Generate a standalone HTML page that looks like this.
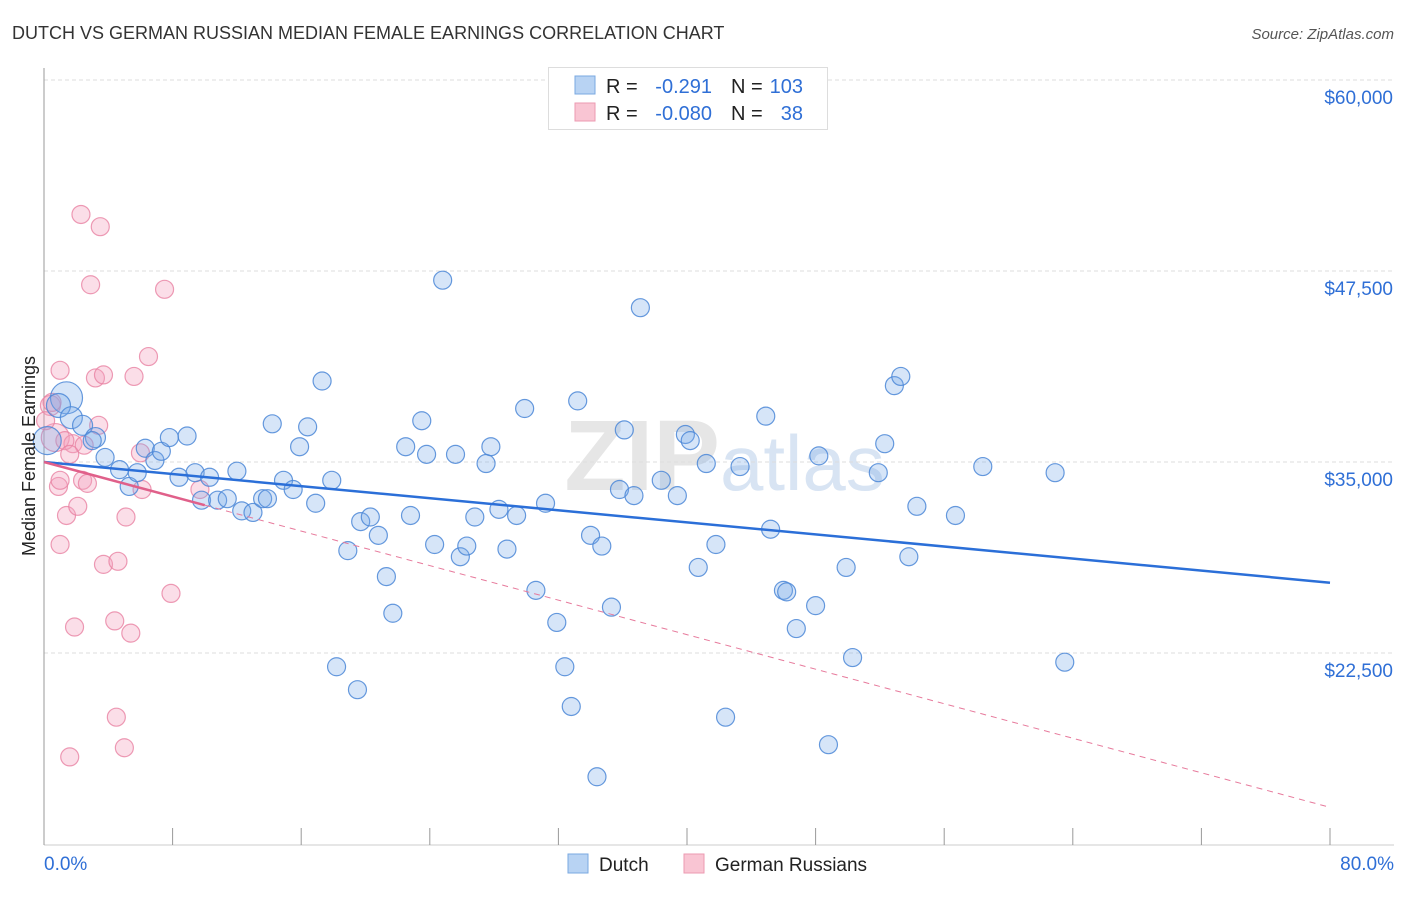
<!DOCTYPE html>
<html><head><meta charset="utf-8"><style>
body{margin:0;background:#fff;font-family:"Liberation Sans",sans-serif;}
svg text{font-family:"Liberation Sans",sans-serif;}
</style></head><body>
<svg id="chart" width="1406" height="892" viewBox="0 0 1406 892">
<text x="12" y="39" font-size="18" fill="#333">DUTCH VS GERMAN RUSSIAN MEDIAN FEMALE EARNINGS CORRELATION CHART</text>
<text x="1394" y="39" font-size="15" fill="#555" font-style="italic" text-anchor="end">Source: ZipAtlas.com</text>
<text x="720" y="490" font-size="100" fill="#e6e6e6" text-anchor="end" font-family="Liberation Serif" font-weight="bold">ZIP</text>
<text x="720" y="490" font-size="78" fill="#d8e4f3">atlas</text>
<g id="grid"></g>
<g id="axes"></g>
<g id="marks"></g>
<g id="fits"></g>
<text transform="translate(35,456) rotate(-90)" font-size="18" fill="#222" text-anchor="middle">Median Female Earnings</text>
<g>
<rect x="548.5" y="67.5" width="279" height="62" fill="#fff" stroke="#ddd"/>
<rect x="575" y="76" width="20" height="18" fill="#b8d3f3" stroke="#7aa8e0"/>
<rect x="575" y="103" width="20" height="18" fill="#f9c5d3" stroke="#ec9ab2"/>
<text x="606" y="93" font-size="20" fill="#222">R = </text><text x="712" y="93" font-size="20" fill="#2f6fd6" text-anchor="end">-0.291</text>
<text x="731" y="93" font-size="20" fill="#222">N = </text><text x="803" y="93" font-size="20" fill="#2f6fd6" text-anchor="end">103</text>
<text x="606" y="120" font-size="20" fill="#222">R = </text><text x="712" y="120" font-size="20" fill="#2f6fd6" text-anchor="end">-0.080</text>
<text x="731" y="120" font-size="20" fill="#222">N = </text><text x="803" y="120" font-size="20" fill="#2f6fd6" text-anchor="end">38</text>
</g>
<g>
<rect x="568" y="854" width="20" height="19" fill="#b8d3f3" stroke="#7aa8e0"/>
<text x="599" y="871" font-size="19" fill="#222">Dutch</text>
<rect x="684" y="854" width="20" height="19" fill="#f9c5d3" stroke="#ec9ab2"/>
<text x="715" y="871" font-size="19" fill="#222">German Russians</text>
</g>
</svg>
<script>
const yTicks=[60000,47500,35000,22500];
const yTickLabels=["$60,000","$47,500","$35,000","$22,500"];
const xTickLabels=["0.0%","80.0%"];
const dutchX=[1.4,0.2,0.9,1.7,2.4,3.2,3.0,3.8,4.7,5.3,5.8,6.3,6.9,7.3,7.8,8.4,8.9,9.4,10.3,9.8,10.8,11.4,12.0,12.3,13.0,13.6,13.9,14.2,14.9,15.5,15.9,16.4,16.9,17.3,17.9,18.9,18.2,19.5,19.7,20.3,20.8,21.3,21.7,22.5,22.8,23.5,23.8,24.3,24.8,25.6,25.9,26.3,26.8,27.5,27.8,28.3,28.8,29.4,29.9,30.6,31.2,31.9,32.4,32.8,33.2,34.0,34.4,34.7,35.3,35.8,36.1,36.7,37.1,38.4,39.4,39.9,40.2,40.7,41.2,41.8,42.4,43.3,44.9,45.2,46.0,46.2,46.8,48.0,48.2,48.8,49.9,50.3,51.9,52.3,52.9,53.3,53.8,54.3,56.7,58.4,62.9,63.5];
const dutchY=[39200,36400,38700,37900,37400,36600,36400,35300,34500,33400,34300,35900,35100,35700,36600,34000,36700,34300,34000,32500,32500,32600,34400,31800,31700,32600,32600,37500,33800,33200,36000,37300,32300,40300,33800,29200,21600,20100,31100,31400,30200,27500,25100,36000,31500,37700,35500,29600,46900,35500,28800,29500,31400,34900,36000,31900,29300,31500,38500,26600,32300,24500,21600,19000,39000,30200,14400,29500,25500,33200,37100,32800,45100,33800,32800,36800,36400,28100,34900,29600,18300,34700,38000,30600,26600,26500,24100,25600,35400,16500,28100,22200,34300,36200,40000,40600,28800,32100,31500,34700,34300,21900];
const dutchSize=[16,14,12,11,10,10,9];
const germanX=[0.7,0.4,1.0,0.1,0.9,1.4,1.0,1.9,2.1,2.3,2.4,2.7,2.9,3.2,3.4,3.5,3.7,3.7,4.4,4.5,4.6,5.0,5.1,5.4,5.6,6.0,6.1,6.5,7.5,7.9,1.6,1.8,1.3,2.5,1.0,9.7,0.5,1.6];
const germanY=[36600,38700,41000,37700,33400,31500,29600,24200,32100,51200,33800,33600,46600,40500,37400,50400,40700,28300,24600,18300,28500,16300,31400,23800,40600,35600,33200,41900,46300,26400,15700,36200,36400,36100,33800,33200,38900,35500];
const germanSize=[14,10,9];
const dutchFit=[35000,27100];
const germanFit=[35000,12400];
const fitX=[0,80];
const germanSolidEnd=10;

const NS="http://www.w3.org/2000/svg";
function xs(v){return 44+v*(1330-44)/80;}
function ys(v){return 80+(60000-v)*(191/12500);}
function mk(tag,attrs,parent){const e=document.createElementNS(NS,tag);for(const k in attrs)e.setAttribute(k,attrs[k]);parent.appendChild(e);return e;}
const grid=document.getElementById('grid'),axes=document.getElementById('axes'),marks=document.getElementById('marks'),fits=document.getElementById('fits');
yTicks.forEach((t,i)=>{
 const l=mk('line',{x1:44,x2:1394,y1:ys(t),y2:ys(t),stroke:'#ddd','stroke-dasharray':'4,3'},grid);
 
 
 const tx=mk('text',{x:1393,y:ys(t)+24,'font-size':19,fill:'#2f6fd6','text-anchor':'end'},grid);
 tx.textContent=yTickLabels[i];
 
 
});
const ya=mk('line',{x1:44,x2:44,y1:68,y2:845,stroke:'#999'},axes);


const xa=mk('line',{x1:44,x2:1394,y1:845,y2:845,stroke:'#ccc'},axes);


for(let p=0;p<=80;p+=8){
 const t=mk('line',{x1:xs(p),x2:xs(p),y1:828,y2:845,stroke:'#999'},axes);
 
 
}
[[0,'start',44],[80,'end',1394]].forEach((d,i)=>{
 const tx=mk('text',{x:d[2],y:870,'font-size':19,fill:'#2f6fd6','text-anchor':d[1]},axes);
 tx.textContent=xTickLabels[i];
 
 
});
germanX.forEach((x,i)=>{
 const c=mk('circle',{cx:xs(x),cy:ys(germanY[i]),r:germanSize[i]||9,fill:'rgba(244,160,188,0.35)',stroke:'rgba(232,130,162,0.8)','stroke-width':1.2},marks);
 
 
});
dutchX.forEach((x,i)=>{
 const c=mk('circle',{cx:xs(x),cy:ys(dutchY[i]),r:dutchSize[i]||9,fill:'rgba(120,170,232,0.3)',stroke:'rgba(75,135,215,0.85)','stroke-width':1.2},marks);
 
 
});
const dl=mk('line',{x1:xs(fitX[0]),y1:ys(dutchFit[0]),x2:xs(fitX[1]),y2:ys(dutchFit[1]),stroke:'#2b6fd8','stroke-width':2.5},fits);


const gy=v=>germanFit[0]+(germanFit[1]-germanFit[0])*(v-fitX[0])/(fitX[1]-fitX[0]);
const gd=mk('line',{x1:xs(germanSolidEnd),y1:ys(gy(germanSolidEnd)),x2:xs(fitX[1]),y2:ys(germanFit[1]),stroke:'#e77a9c','stroke-width':1,'stroke-dasharray':'6,5'},fits);


const gs=mk('line',{x1:xs(fitX[0]),y1:ys(germanFit[0]),x2:xs(germanSolidEnd),y2:ys(gy(germanSolidEnd)),stroke:'#e0608a','stroke-width':2.5},fits);


</script>
</body></html>
